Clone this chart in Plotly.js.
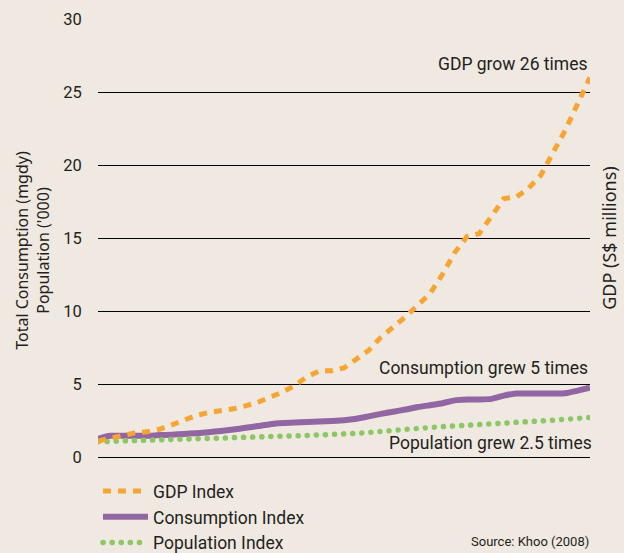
<!DOCTYPE html>
<html>
<head>
<meta charset="utf-8">
<script src="https://cdn.plot.ly/plotly-3.0.1.min.js"></script>
<style>
  html, body { margin: 0; padding: 0; background: #EFE9E2; }
  #chart { width: 624px; height: 553px; }
  path[style*="rgb(141, 198, 101)"] { stroke-linecap: round; }
</style>
</head>
<body>
<div id="chart"></div>
<script>
const years = [1965,1966,1967,1968,1969,1970,1971,1972,1973,1974,1975,1976,1977,1978,1979,1980,
  1981,1982,1983,1984,1985,1986,1987,1988,1989,1990,1991,1992,1993,1994,1995,1996,1997,1998,1999,
  2000,2001,2002,2003,2004,2005];

const gdpIndex = [1.1,1.3,1.5,1.65,1.73,1.9,2.2,2.55,2.85,3.05,3.15,3.3,3.5,3.75,4.1,4.45,
  4.9,5.5,5.9,5.9,6.1,6.7,7.3,8.2,8.85,9.6,10.4,11.2,12.5,14.0,15.1,15.3,16.5,17.7,17.8,
  18.4,19.3,20.8,22.4,24.2,26.0];

const consumptionIndex = [1.25,1.45,1.45,1.45,1.45,1.5,1.53,1.58,1.63,1.7,1.78,1.88,2.0,2.12,2.25,2.33,
  2.37,2.4,2.43,2.47,2.52,2.62,2.78,2.95,3.1,3.25,3.42,3.55,3.68,3.88,3.94,3.94,3.98,4.2,4.35,
  4.35,4.35,4.35,4.37,4.55,4.75];

const populationIndex = [1.05,1.07,1.08,1.1,1.12,1.15,1.18,1.2,1.23,1.26,1.28,1.31,1.34,1.37,1.4,1.42,
  1.45,1.48,1.5,1.53,1.57,1.62,1.68,1.73,1.8,1.88,1.95,2.02,2.08,2.14,2.2,2.26,2.31,2.35,2.39,
  2.43,2.47,2.52,2.56,2.62,2.71];

const seriesNames = ["GDP Index", "Consumption Index", "Population Index"];
const leftTitle = "Total Consumption (mgdy)<br>Population ('000)";
const rightTitle = "GDP (S$ millions)";

const orange = "#F6A532", purple = "#9265A3", green = "rgb(141, 198, 101)";
const dinFont = "Roboto, 'DejaVu Sans Condensed', sans-serif";
const titleFont = "'Noto Sans', 'Open Sans', 'DejaVu Sans', sans-serif";

const traces = [
  { x: years, y: gdpIndex, name: seriesNames[0], type: "scatter", mode: "lines", yaxis: "y2",
    line: { color: orange, width: 5, dash: "8px,7px" } },
  { x: years, y: consumptionIndex, name: seriesNames[1], type: "scatter", mode: "lines",
    line: { color: purple, width: 6, shape: "spline", smoothing: 0.6 } },
  { x: years, y: populationIndex, name: seriesNames[2], type: "scatter", mode: "lines",
    line: { color: green, width: 5.5, dash: "0.1px,9px" } }
];

const layout = {
  width: 624, height: 553,
  paper_bgcolor: "#EFE9E2", plot_bgcolor: "#EFE9E2",
  margin: { l: 98, r: 34, t: 19, b: 96, autoexpand: false },
  font: { family: dinFont, color: "#231F20", size: 16 },
  showlegend: true,
  legend: {
    x: 0, xanchor: "left", y: -0.037, yanchor: "top",
    font: { family: dinFont, size: 17.5, color: "#231F20" },
    bgcolor: "rgba(0,0,0,0)", itemwidth: 45, traceorder: "normal"
  },
  xaxis: {
    range: [1965, 2005], showgrid: false, zeroline: false, showline: false,
    showticklabels: false, ticks: ""
  },
  yaxis: {
    range: [0, 30], dtick: 5, showgrid: true, gridcolor: "#000000", gridwidth: 1,
    zeroline: true, zerolinecolor: "#000000", zerolinewidth: 1, showline: false,
    ticks: "outside", ticklen: 12, tickcolor: "rgba(0,0,0,0)",
    tickfont: { family: dinFont, size: 16.5, color: "#231F20" }
  },
  yaxis2: {
    range: [0, 30], overlaying: "y", side: "right", showgrid: false, zeroline: false,
    showticklabels: false, ticks: "",
    title: { text: rightTitle, font: { family: titleFont, size: 18, color: "#231F20" }, standoff: 13 }
  },
  annotations: [
    { xref: "paper", yref: "paper", x: -0.133, y: 0.472, xanchor: "center", yanchor: "middle",
      textangle: -90, showarrow: false, align: "center", text: leftTitle,
      font: { family: titleFont, size: 16, color: "#231F20" } },
    { xref: "paper", yref: "y", x: 1, y: 26.9, xanchor: "right", yanchor: "middle", showarrow: false,
      text: "GDP grow 26 times", font: { family: dinFont, size: 17.5, color: "#231F20" } },
    { xref: "paper", yref: "y", x: 1, y: 6.1, xanchor: "right", yanchor: "middle", showarrow: false,
      text: "Consumption grew 5 times", font: { family: dinFont, size: 17.5, color: "#231F20" } },
    { xref: "paper", yref: "y", x: 1.008, y: 0.96, xanchor: "right", yanchor: "middle", showarrow: false,
      text: "Population grew 2.5 times", font: { family: dinFont, size: 17.5, color: "#231F20" } },
    { xref: "paper", yref: "paper", x: 1.002, y: -0.192, xanchor: "right", yanchor: "middle", showarrow: false,
      text: "Source: Khoo (2008)", font: { family: dinFont, size: 13, color: "#231F20" } }
  ]
};

Plotly.newPlot("chart", traces, layout, { displayModeBar: false, staticPlot: true });
</script>
</body>
</html>
